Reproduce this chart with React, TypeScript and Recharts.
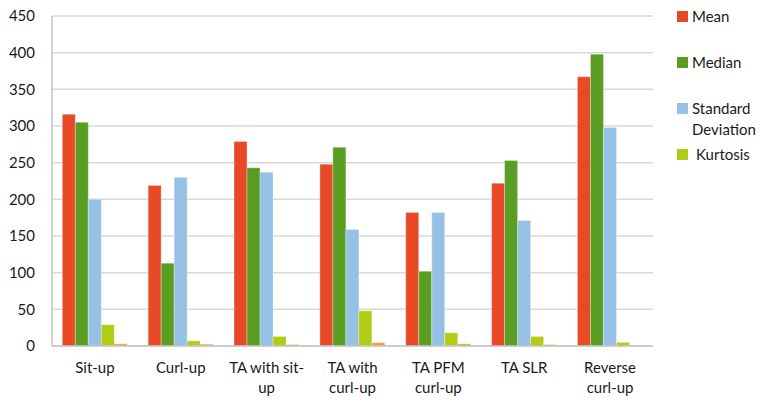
import { BarChart, Bar, XAxis, YAxis, CartesianGrid } from "recharts";

const exercises = [
    "Sit-up",
    "Curl-up",
    "TA with sit-up",
    "TA with curl-up",
    "TA PFM curl-up",
    "TA SLR",
    "Reverse curl-up"
];

// how each category name breaks under its group
const exerciseLabelLines = [
    ["Sit-up"],
    ["Curl-up"],
    ["TA with sit-", "up"],
    ["TA with", "curl-up"],
    ["TA PFM", "curl-up"],
    ["TA SLR"],
    ["Reverse", "curl-up"]
];

const mean = [316, 219, 279, 248, 182, 222, 367];
const median = [305, 113, 243, 271, 102, 253, 398];
const stdDev = [200, 230, 237, 159, 182, 171, 298];
const kurtosis = [29, 7, 13, 48, 18, 13, 5];
const skewness = [3, 2.5, 2, 4.5, 3, 2, 1];

const yTicks = [0, 50, 100, 150, 200, 250, 300, 350, 400, 450];

const SERIES = [
    { key: "mean", name: "Mean", color: "#E84A27", inLegend: true },
    { key: "median", name: "Median", color: "#599E22", inLegend: true },
    { key: "stdDev", name: "Standard Deviation", color: "#96C1E4", inLegend: true },
    { key: "kurtosis", name: "Kurtosis", color: "#B1CD13", inLegend: true },
    { key: "skewness", name: "Skewness", color: "#F79A3A", inLegend: false }
];

const data = exercises.map((name, i) => ({
    name,
    mean: mean[i],
    median: median[i],
    stdDev: stdDev[i],
    kurtosis: kurtosis[i],
    skewness: skewness[i]
}));

const FONT = "Lato, 'Open Sans', sans-serif";
const TEXT = "#1a1a1a";

function ExerciseTick({ x, y, payload }: any) {
    const lines = exerciseLabelLines[payload.index] ?? [payload.value];
    return (
        <text x={x} y={y + 27} textAnchor="middle" fill={TEXT} fontSize={15} fontFamily={FONT}>
            {lines.map((line, i) => (
                <tspan key={i} x={x} dy={i === 0 ? 0 : 20}>
                    {line}
                </tspan>
            ))}
        </text>
    );
}

function SideLegend() {
    const items = SERIES.filter((s) => s.inLegend);
    return (
        <div style={{ position: "absolute", left: 677, top: 0, fontFamily: FONT, fontSize: 15, color: TEXT }}>
            {items.map((s, i) => (
                <div key={s.key} style={{ position: "absolute", top: 11 + i * 46, left: 0, width: 84 }}>
                    <div style={{ position: "absolute", left: 0, top: 0, width: 11, height: 11, background: s.color }} />
                    <div
                        style={{
                            position: "absolute",
                            left: s.key === "kurtosis" ? 19 : 15,
                            top: -5,
                            lineHeight: "21px",
                            whiteSpace: "nowrap"
                        }}
                    >
                        {s.name === "Standard Deviation" ? (
                            <>
                                Standard
                                <br />
                                Deviation
                            </>
                        ) : (
                            s.name
                        )}
                    </div>
                </div>
            ))}
        </div>
    );
}

export default function App() {
    return (
        <div style={{ position: "absolute", left: 0, top: 0, width: 761, height: 403, background: "#fff" }}>
            <BarChart
                width={761}
                height={403}
                data={data}
                margin={{ top: 16, right: 108, left: 0, bottom: 0 }}
                barCategoryGap="12%"
                barGap={0}
            >
                <CartesianGrid vertical={false} stroke="#d9d9d9" strokeWidth={1.5} />
                <XAxis
                    dataKey="name"
                    height={57}
                    interval={0}
                    tickLine={false}
                    tickSize={0}
                    tickMargin={0}
                    axisLine={{ stroke: "#c4c4c4", strokeWidth: 1.5 }}
                    tick={<ExerciseTick />}
                />
                <YAxis
                    width={52}
                    domain={[0, 450]}
                    ticks={yTicks}
                    interval={0}
                    tickLine={false}
                    tickSize={0}
                    tickMargin={17}
                    axisLine={{ stroke: "#c4c4c4", strokeWidth: 1.5 }}
                    tick={{ fill: TEXT, fontSize: 15, fontFamily: FONT }}
                />
                <YAxis
                    yAxisId="frame"
                    orientation="right"
                    width={0}
                    domain={[0, 450]}
                    tick={false}
                    tickLine={false}
                    axisLine={{ stroke: "#d0d0d0", strokeWidth: 1.5 }}
                />
                {SERIES.map((s) => (
                    <Bar
                        key={s.key}
                        dataKey={s.key}
                        name={s.name}
                        fill={s.color}
                        stroke="#ffffff"
                        strokeOpacity={0.3}
                        strokeWidth={1}
                        isAnimationActive={false}
                    />
                ))}
            </BarChart>
            <SideLegend />
        </div>
    );
}
